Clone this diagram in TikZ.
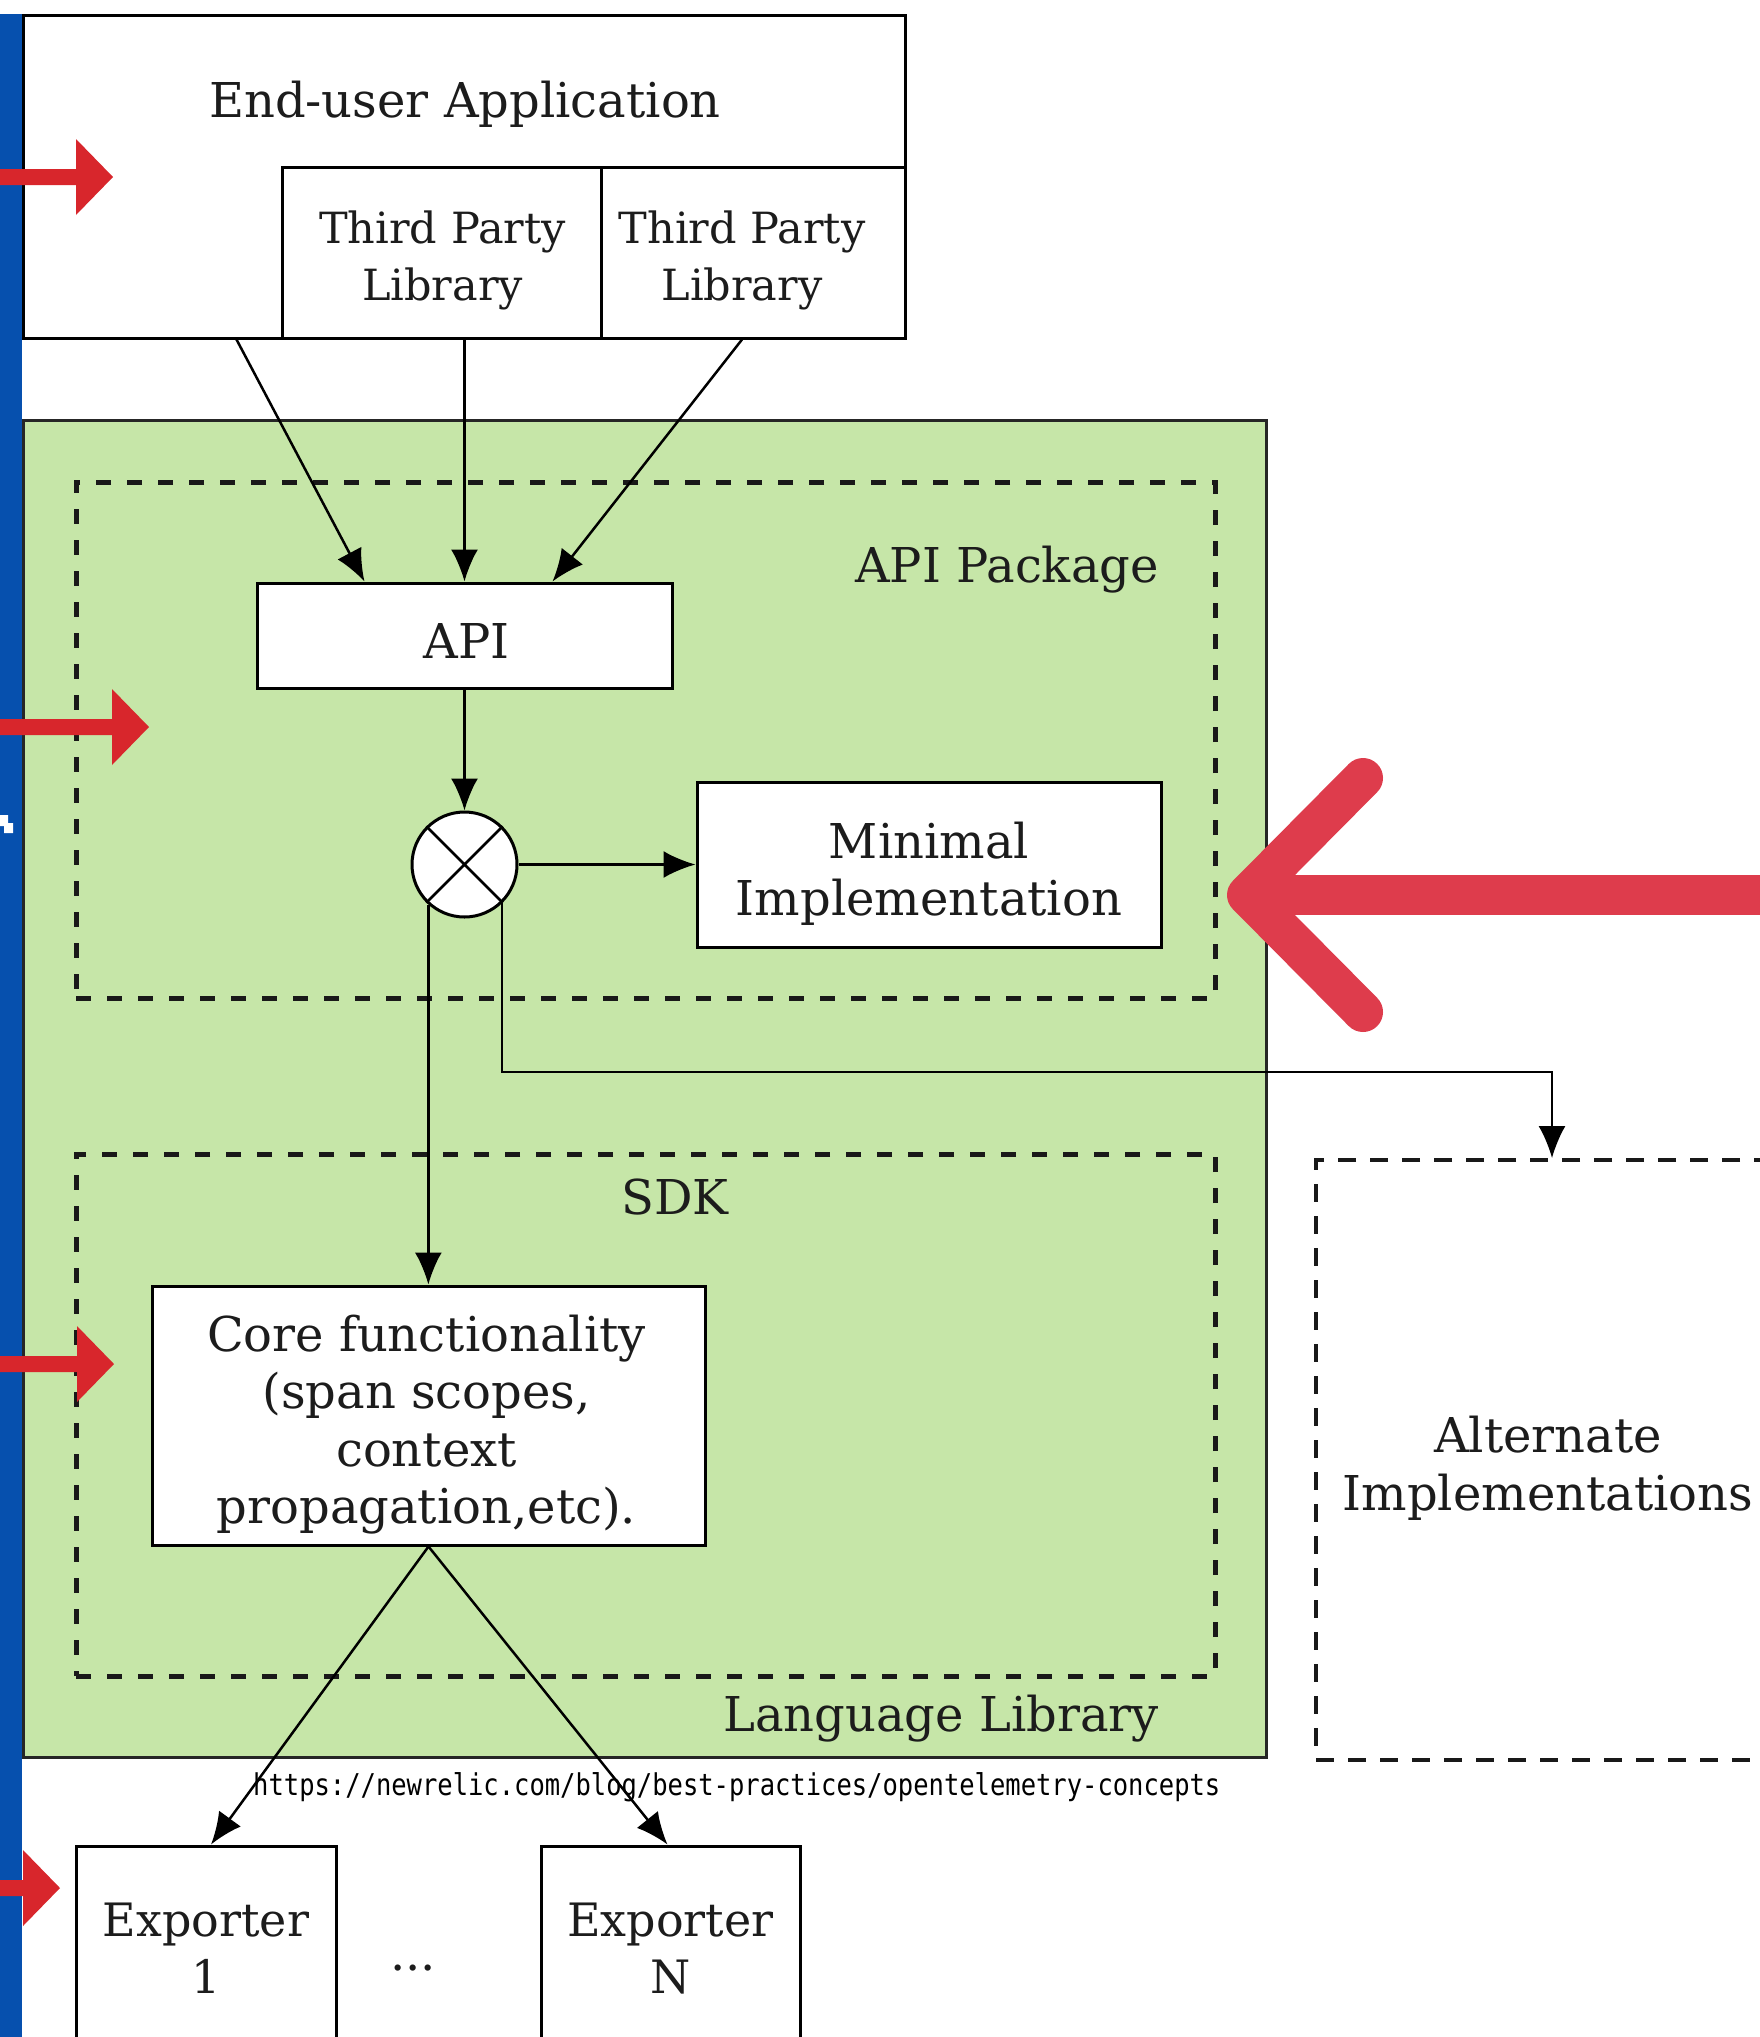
\documentclass[tikz,border=0pt]{standalone}
\usepackage{fontspec}
\setmainfont{DejaVu Serif}
\newfontfamily\urlfont[FakeStretch=0.85]{DejaVu Sans Mono}
\usetikzlibrary{arrows.meta,calc}
\definecolor{bluebar}{RGB}{6,80,174}
\definecolor{libgreen}{RGB}{198,230,168}
\definecolor{redarrow}{RGB}{216,38,44}
\definecolor{bigred}{RGB}{222,60,76}
\definecolor{textdark}{RGB}{28,28,28}
\newcommand\txtA{\fontsize{48}{57.5}\selectfont}
\newcommand\txtB{\fontsize{43}{57.5}\selectfont}
\newcommand\txtE{\fontsize{46}{57}\selectfont}
\tikzset{
  box/.style={draw=black, line width=3pt, fill=white, inner sep=0pt},
  lbl/.style={inner sep=0pt, align=center, text=textdark},
  dashbox/.style={draw=black!90, line width=5pt, dash pattern=on 15pt off 16pt, inner sep=0pt},
  arr/.style={draw=black, line width=2.5pt, -{Latex[length=32pt,width=27pt]}},
  redarr/.pic={\fill[redarrow] (-37,-8) -- (-37,-38) -- (0,0) -- (-37,38) -- (-37,8) -- (-300,8) -- (-300,-8) -- cycle;}
}
\begin{document}
\begin{tikzpicture}[x=1pt,y=-1pt]
\useasboundingbox (0,0) rectangle (1760,2037);
\begin{scope}
\clip (0,0) rectangle (1760,2037);
\fill[white] (0,0) rectangle (1760,2037);
% blue side bar
\fill[bluebar] (0,14) rectangle (22,2037);
\fill[white] (0,815) -- (8,815) -- (8,823) -- (13,823) -- (13,833) -- (4,833) -- (4,826) -- (0,826) -- cycle;
% language library
\node[draw=black!85, line width=3pt, fill=libgreen, minimum width=1243pt, minimum height=1337pt, inner sep=0pt] (lib) at (644.5,1088.5) {};
\node[dashbox, minimum width=1139pt, minimum height=516pt] (apipkg) at (645.5,740) {};
\node[dashbox, minimum width=1139pt, minimum height=522pt] (sdk) at (645.5,1415) {};
\node[lbl, font=\txtA] (apipkgl) at (1007,570) {API Package};
\node[lbl, font=\txtA] (sdkl) at (675,1197) {SDK};
\node[lbl, font=\txtA] (libl) at (941,1719) {Language Library};
% application
\node[box, minimum width=882pt, minimum height=323pt] (app) at (464,176.5) {};
\node[lbl, font=\txtA] (appl) at (465,104) {End-user Application};
\node[box, minimum width=319pt, minimum height=171pt] (tp1) at (441.5,252.5) {};
\node[box, minimum width=304pt, minimum height=171pt] (tp2) at (753,252.5) {};
\node[lbl, font=\txtB] (tp1l) at ($(tp1.center)+(1,8)$) {Third Party\\Library};
\node[lbl, font=\txtB] (tp2l) at ($(tp2.center)+(-11,8)$) {Third Party\\Library};
% api
\node[box, minimum width=415pt, minimum height=105pt] (api) at (464.5,635.5) {};
\node[lbl, font=\txtA] (apil) at ($(api.center)+(2,5)$) {API};
\node[draw=black, line width=3pt, fill=white, circle, minimum size=105pt, inner sep=0pt] (circ) at (464.5,864.5) {};
\draw[line width=2.5pt] (circ.45) -- (circ.225) (circ.135) -- (circ.315);
\node[box, minimum width=464pt, minimum height=165pt] (mini) at (929,864.5) {};
\node[lbl, font=\txtA] (minil) at ($(mini.center)+(0,9)$) {Minimal\\Implementation};
\node[box, minimum width=553pt, minimum height=259pt] (core) at (428.5,1415.5) {};
\node[lbl, font=\txtA] (corel) at ($(core.center)+(-2,9)$) {Core functionality\\(span scopes,\\context\\propagation,etc).};
% exporters
\node[box, minimum width=260pt, minimum height=205pt] (ex1) at (206,1948.5) {};
\node[box, minimum width=259pt, minimum height=205pt] (exn) at (670.5,1948.5) {};
\node[lbl, font=\txtE] (ex1l) at (ex1.center) {Exporter\\1};
\node[lbl, font=\txtE] (exnl) at (exn.center) {Exporter\\N};
\node[lbl, font=\txtA, anchor=base] (dots) at (413,1970) {...};
% alternate implementations
\node[draw=black!90, line width=4pt, dash pattern=on 18pt off 14pt, minimum width=472pt, minimum height=600pt, inner sep=0pt] (alt) at (1552,1460) {};
\node[lbl, font=\txtA] (altl) at ($(alt.center)+(-4,8)$) {Alternate\\Implementations};
% connectors
\draw[arr] ([xshift=215pt]app.south west) -- ([xshift=-100pt]api.north);
\draw[arr] (tp1.south -| api.north) -- (api.north);
\draw[arr] ([xshift=-11pt]tp2.south) -- ([xshift=88pt]api.north);
\draw[arr] (api.south) -- (circ.north);
\draw[arr] (circ.east) -- (mini.west);
\draw[arr] (circ.228) -- (circ.228 |- core.north);
\coordinate (altturn) at (1552,1072);
\draw[arr, line width=2pt] (circ.314) |- (altturn) -- (alt.north);
\draw[arr] (core.south) -- ([xshift=5pt]ex1.north);
\draw[arr] (core.south) -- ([xshift=-3pt]exn.north);
% url
\node[inner sep=0pt, anchor=west, font=\urlfont\fontsize{30}{36}\selectfont] (url) at (253,1787) {https://newrelic.com/blog/best-practices/opentelemetry-concepts};
% red annotation arrows
\pic at (113,177) {redarr};
\pic at (149,727) {redarr};
\pic at (114,1364) {redarr};
\pic at (60,1888) {redarr};
\draw[bigred, line width=40pt, line cap=round, line join=round] (1363,778) -- (1247,895) -- (1363,1012);
\draw[bigred, line width=40pt] (1247,895) -- (1800,895);
\end{scope}
\end{tikzpicture}
\end{document}
